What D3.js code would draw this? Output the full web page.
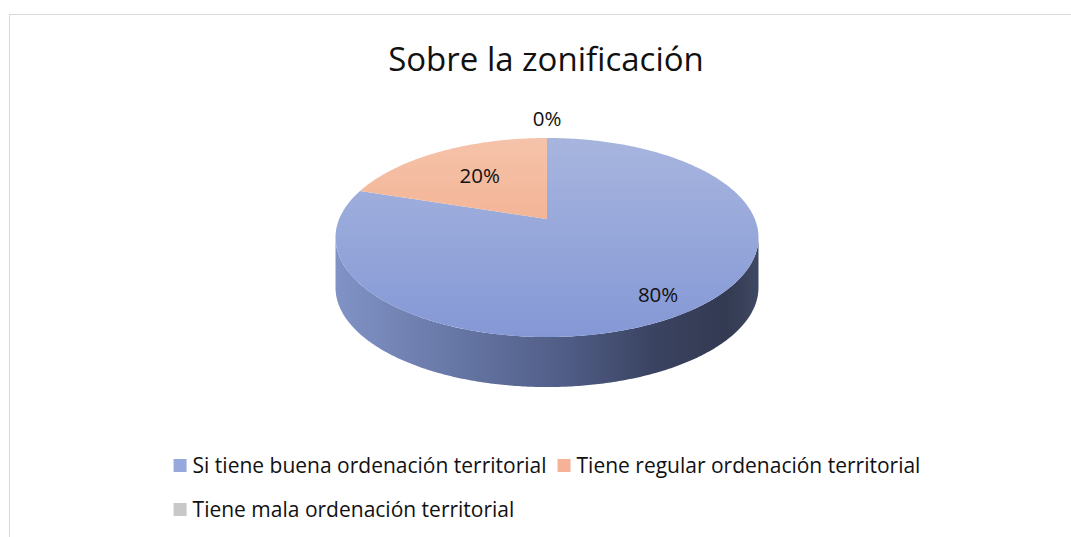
<!DOCTYPE html>
<html>
<head>
<meta charset="utf-8">
<script src="https://d3js.org/d3.v7.min.js"></script>
<style>
    body { margin: 0; background: #fff; }
    svg { display: block; }
    text { font-family: "Open Sans", "Noto Sans", sans-serif; fill: #111; }
</style>
</head>
<body>
<div class="container"></div>
<script>
(function () {

    //chart data
    var title = "Sobre la zonificación";
    var categories = [
        "Si tiene buena ordenación territorial",
        "Tiene regular ordenación territorial",
        "Tiene mala ordenación territorial"
    ];
    var values = [80, 20, 0];

    //frame
    var width = 1071, height = 537;

    //pie geometry (perspective ellipse)
    var cx = 547, cy = 219, A = 207.8, B = 96.1, k = 0.186, depth = 50;

    var svg = d3.select(".container")
        .append("svg")
        .attr("width", width)
        .attr("height", height);

    var defs = svg.append("defs");

    //chart border, only top and left edges are inside the picture
    svg.append("rect")
        .attr("x", 9.5)
        .attr("y", 14.5)
        .attr("width", 1200)
        .attr("height", 700)
        .style("fill", "none")
        .style("stroke", "#d9d9d9")
        .style("stroke-width", 1);

    //project an angle (0 = top, clockwise) and a radius fraction to the screen
    function project(angle, frac, h) {
        var u = Math.sin(angle) * frac,
            v = -Math.cos(angle) * frac,
            w = 1 - k * v;
        return [cx + A * u / w, cy + B * v / w + h * depth];
    }

    function arcPoints(a0, a1, frac, h) {
        var n = Math.max(2, Math.ceil((a1 - a0) / 0.01));
        return d3.range(n + 1).map(function (i) {
            return project(a0 + (a1 - a0) * i / n, frac, h);
        });
    }

    var palette = d3.scaleOrdinal()
        .domain(categories)
        .range([
            ["#a7b5de", "#8598d6"],
            ["#f5c3aa", "#f2a07b"],
            ["#dcdcdc", "#bdbdbd"]
        ]);
    var legendColors = d3.scaleOrdinal()
        .domain(categories)
        .range(["#97a8dc", "#f5b296", "#c8c8c8"]);

    //top face gradients
    var yTop = project(0, 1, 0)[1],
        yBottom = project(Math.PI, 1, 0)[1];
    categories.forEach(function (c, i) {
        var g = defs.append("linearGradient")
            .attr("id", "top" + i)
            .attr("gradientUnits", "userSpaceOnUse")
            .attr("x1", 0).attr("x2", 0)
            .attr("y1", yTop).attr("y2", yBottom);
        g.append("stop").attr("offset", 0).attr("stop-color", palette(c)[0]);
        g.append("stop").attr("offset", 1).attr("stop-color", palette(c)[1]);
    });

    //the side wall is visible between the two horizontal extremes
    var aRight = Math.acos(-k),
        aLeft = 2 * Math.PI - Math.acos(-k),
        xLeft = project(aLeft, 1, 0)[0],
        xRight = project(aRight, 1, 0)[0];

    var sideGrad = defs.append("linearGradient")
        .attr("id", "side0")
        .attr("gradientUnits", "userSpaceOnUse")
        .attr("x1", xLeft).attr("x2", xRight)
        .attr("y1", 0).attr("y2", 0);
    [[0, "#8192c6"], [0.3, "#6575a3"], [0.55, "#4f5c85"], [0.75, "#3a4361"], [0.92, "#333a52"], [1, "#3f4862"]]
        .forEach(function (s) {
            sideGrad.append("stop").attr("offset", s[0]).attr("stop-color", s[1]);
        });

    var pie = d3.pie().sort(null).value(function (d) { return d; });
    var arcs = pie(values);
    var line = d3.line();

    //side walls
    arcs.forEach(function (d) {
        var a0 = Math.max(d.startAngle, aRight),
            a1 = Math.min(d.endAngle, aLeft);
        if (a1 <= a0) return;
        var pts = arcPoints(a0, a1, 1, 0).concat(arcPoints(a0, a1, 1, 1).reverse());
        svg.append("path")
            .attr("class", "side")
            .attr("d", line(pts) + "Z")
            .style("fill", "url(#side0)");
    });

    //top faces
    arcs.forEach(function (d, i) {
        if (d.endAngle - d.startAngle <= 0) return;
        var pts = [project(0, 0, 0)].concat(arcPoints(d.startAngle, d.endAngle, 1, 0));
        svg.append("path")
            .attr("class", "slice")
            .attr("d", line(pts) + "Z")
            .style("fill", "url(#top" + i + ")");
    });

    //data labels
    var total = d3.sum(values);
    arcs.forEach(function (d) {
        var mid = (d.startAngle + d.endAngle) / 2,
            share = d.value / total,
            p;
        if (share === 0) {
            p = project(mid, 1, 0);
            p = [p[0], p[1] - 19];
        } else {
            p = project(mid, share >= 0.5 ? 0.8 : 0.6, 0);
            if (share >= 0.5) p[1] += 5;
        }
        svg.append("text")
            .attr("class", "label")
            .attr("x", p[0])
            .attr("y", p[1])
            .attr("dy", "0.35em")
            .attr("text-anchor", "middle")
            .style("font-size", "20.5px")
            .text(Math.round(share * 100) + "%");
    });

    //title
    svg.append("text")
        .attr("class", "chartTitle")
        .attr("x", 546)
        .attr("y", 71)
        .attr("text-anchor", "middle")
        .style("font-size", "33px")
        .text(title);

    //legend
    var box = 13, boxGap = 6, itemGap = 11, rowGap = 44,
        rowY = 459, maxRow = 760;
    var legend = svg.append("g").attr("class", "legend");
    var items = categories.map(function (c) {
        var g = legend.append("g");
        g.append("rect")
            .attr("width", box)
            .attr("height", box)
            .style("fill", legendColors(c));
        var t = g.append("text")
            .attr("x", box + boxGap)
            .attr("y", box / 2)
            .attr("dy", "0.36em")
            .style("font-size", "21px")
            .text(c);
        return { g: g, w: box + boxGap + t.node().getComputedTextLength() };
    });

    //pack items into rows
    var rows = [[]], rowW = 0;
    items.forEach(function (it) {
        var add = (rows[rows.length - 1].length ? itemGap : 0) + it.w;
        if (rowW + add > maxRow && rows[rows.length - 1].length) {
            rows.push([]);
            rowW = 0;
            add = it.w;
        }
        rows[rows.length - 1].push(it);
        rowW += add;
    });
    var firstW = d3.sum(rows[0], function (it) { return it.w; }) + itemGap * (rows[0].length - 1),
        left = cx - firstW / 2;
    rows.forEach(function (row, r) {
        var x = left;
        row.forEach(function (it) {
            it.g.attr("transform", "translate(" + x + "," + (rowY + r * rowGap) + ")");
            x += it.w + itemGap;
        });
    });

})();
</script>
</body>
</html>
